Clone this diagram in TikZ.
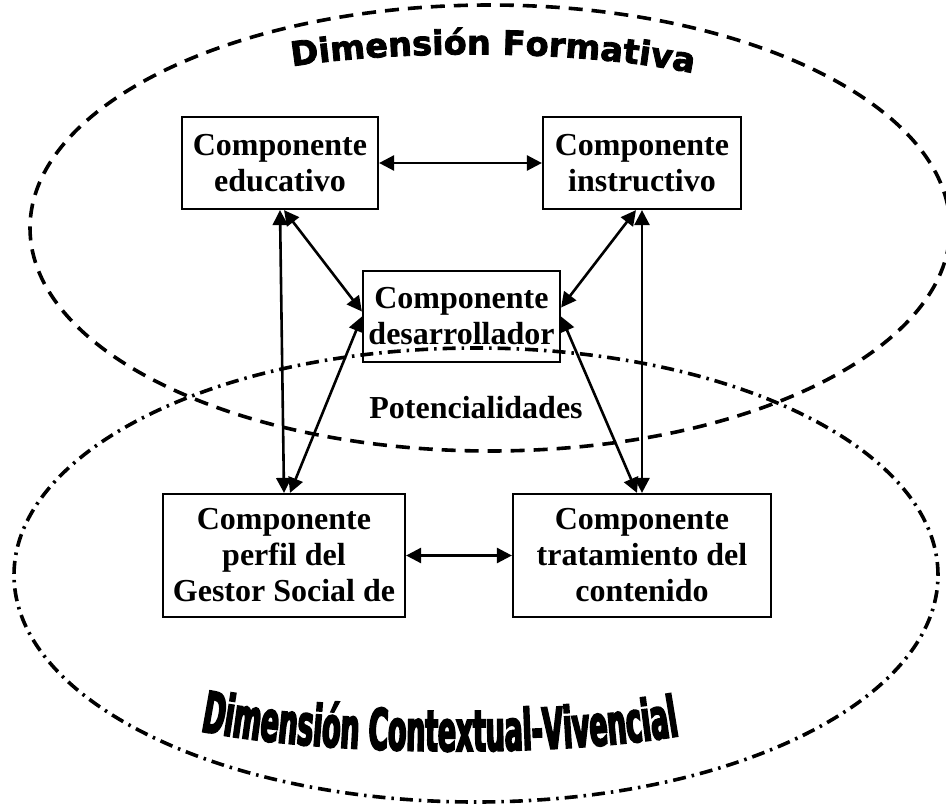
\documentclass[tikz,border=0pt]{standalone}
\usepackage{fontspec}
\setmainfont{Liberation Serif}
\newfontfamily\formfont[FakeBold=2.5]{DejaVu Sans Bold}
\newfontfamily\ctxfont[FakeStretch=0.47,FakeBold=3]{DejaVu Sans Bold}
\usetikzlibrary{arrows.meta,decorations.text}

\begin{document}
\begin{tikzpicture}[x=1pt,y=1pt,
  comp/.style={draw, line width=2.2pt, inner sep=0pt, align=center,
    font=\bfseries\fontsize{32}{36}\selectfont},
  link/.style={line width=2.6pt,
    {Triangle[length=15pt,width=15pt]}-{Triangle[length=15pt,width=15pt]}}]

\useasboundingbox (0,0) rectangle (946,-806);

% dimensiones
\draw[line width=3.6pt, dash pattern=on 14pt off 9pt] (490,-228) ellipse [x radius=460, y radius=223];
\draw[line width=3.6pt, dash pattern=on 13pt off 6pt on 2.5pt off 6pt] (476,-575) ellipse [x radius=462, y radius=227];

\path[decorate, decoration={text along path, text align=center,
  text={|\formfont\fontsize{33.5}{36}\selectfont|Dimensión Formativa}}]
  (270,-70) .. controls (390,-48) and (590,-48) .. (715,-78);
\path[decorate, decoration={text along path, text align=center,
  text={|\ctxfont\fontsize{57}{60}\selectfont|Dimensión Contextual-Vivencial}}]
  (185,-728) .. controls (320,-758) and (570,-758) .. (695,-733);

% componentes
\node[comp, minimum width=196, minimum height=92] (edu) at (280,-163) {Componente\\educativo};
\node[comp, minimum width=198, minimum height=92] (ins) at (642,-163) {Componente\\instructivo};
\node[comp, minimum width=197, minimum height=91] (des) at (461.5,-316.5) {Componente\\desarrollador};
\node[comp, minimum width=242, minimum height=123] (per) at (284,-555.5) {Componente\\perfil del\\Gestor Social de};
\node[comp, minimum width=258, minimum height=123] (tra) at (642,-555.5) {Componente\\tratamiento del\\contenido};
\node[font=\bfseries\fontsize{32}{36}\selectfont] (pot) at (476,-408) {Potencialidades};

\draw[link] (edu) -- (ins);
\draw[link] (per) -- (tra);
\draw[link] (edu.south) -- (per.north);
\draw[link] ([xshift=4pt]edu.south) -- ([yshift=5pt]des.west);
\draw[link] (des.west) -- ([xshift=6pt]per.north);
\draw[link] (ins.south) -- (tra.north);
\draw[link] ([xshift=-6pt]ins.south) -- ([yshift=9pt]des.east);
\draw[link] (des.east) -- ([xshift=-5pt]tra.north);

\end{tikzpicture}
\end{document}
